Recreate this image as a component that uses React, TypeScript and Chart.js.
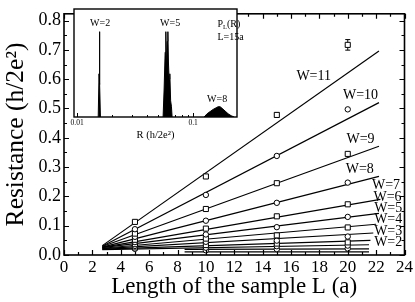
import { useEffect, useRef } from "react";
import { Chart, registerables } from "chart.js";
Chart.register(...registerables);

const SERIF = '"Liberation Serif", "DejaVu Serif", serif';

// Main chart data
const lengths = [5, 10, 15, 20];
const widthNames = ["W=11", "W=10", "W=9", "W=8", "W=7", "W=6", "W=5", "W=4", "W=3", "W=2"];
const markerShapes = ["rect", "circle", "rect", "circle", "rect", "circle", "rect", "circle", "rect", "circle"];
const rW11 = [0.113, 0.268, 0.478, 0.717];
const rW10 = [0.088, 0.205, 0.338, 0.497];
const rW9 = [0.073, 0.157, 0.245, 0.345];
const rW8 = [0.062, 0.117, 0.178, 0.247];
const rW7 = [0.052, 0.09, 0.132, 0.173];
const rW6 = [0.044, 0.07, 0.095, 0.13];
const rW5 = [0.037, 0.056, 0.067, 0.094];
const rW4 = [0.031, 0.045, 0.049, 0.063];
const rW3 = [0.026, 0.034, 0.039, 0.043];
const rW2 = [0.021, 0.025, 0.03, 0.032];
const rW1 = [null, 0.016, 0.02, 0.022];
const errW11 = [0, 0.004, 0.008, 0.018];
const allSeries = [rW11, rW10, rW9, rW8, rW7, rW6, rW5, rW4, rW3, rW2];

const fitStartX = 2.7;
const fitStartY = [0.032, 0.03, 0.029, 0.027, 0.026, 0.025, 0.023, 0.022, 0.02, 0.018];
const fitEndX = [22.2, 22.2, 22.2, 22.2, 22.3, 22.2, 22.0, 21.8, 21.6, 21.5];
const fitEndY = [0.696, 0.52, 0.371, 0.268, 0.19, 0.142, 0.105, 0.075, 0.05, 0.035];
const w1LineX = [8.5, 21.5];
const w1LineA = [0.019, 0.021];
const w1LineB = [0.011, 0.011];

const labelX = [17.6, 20.9, 20.9, 20.85, 22.7, 22.8, 22.85, 22.85, 22.85, 22.85];
const labelY = [0.61, 0.545, 0.396, 0.292, 0.237, 0.198, 0.159, 0.123, 0.081, 0.042];

// Inset data (distribution P_L(R), L = 15a)
const insetW2R = [0.0152, 0.01545, 0.01557, 0.0157, 0.0159];
const insetW2P = [0, 0.4, 0.79, 0.3, 0];
const insetW5R = [0.0551, 0.0562, 0.0574, 0.0582, 0.0589, 0.0597, 0.0606, 0.0613, 0.0621, 0.063, 0.064, 0.065, 0.0659];
const insetW5P = [0, 0.25, 0.6, 0.79, 0.45, 0.7, 0.79, 0.5, 0.35, 0.4, 0.15, 0.1, 0];
const insetW8R = [0.1244, 0.132, 0.1401, 0.1487, 0.1579, 0.1642, 0.1709, 0.1778, 0.1888, 0.2003, 0.2127, 0.2257];
const insetW8P = [0, 0.03, 0.05, 0.07, 0.085, 0.095, 0.095, 0.08, 0.055, 0.03, 0.012, 0];
const insetLabels = ["W=2", "W=5", "W=8"];
const insetLabelR = [0.0158, 0.0634, 0.161];
const insetLabelP = [0.87, 0.87, 0.167];

const pts = (xs: number[], ys: (number | null)[]) =>
  xs.map((x, i) => ({ x, y: ys[i] as number })).filter((p) => p.y !== null);

const mainDecor = {
  id: "mainDecor",
  beforeDatasetsDraw(chart: any) {
    const { ctx, scales } = chart;
    const x = scales.x, y = scales.y;
    ctx.save();
    ctx.strokeStyle = "#000";
    ctx.lineWidth = 1;
    lengths.forEach((L, i) => {
      const e = errW11[i];
      if (!e) return;
      const px = x.getPixelForValue(L);
      const y1 = y.getPixelForValue(rW11[i] - e);
      const y2 = y.getPixelForValue(rW11[i] + e);
      ctx.beginPath();
      ctx.moveTo(px, y1); ctx.lineTo(px, y2);
      ctx.moveTo(px - 2.5, y1); ctx.lineTo(px + 2.5, y1);
      ctx.moveTo(px - 2.5, y2); ctx.lineTo(px + 2.5, y2);
      ctx.stroke();
    });
    ctx.restore();
  },
  afterDraw(chart: any) {
    const { ctx, chartArea: a, scales } = chart;
    const x = scales.x, y = scales.y;
    ctx.save();
    ctx.strokeStyle = "#000";
    ctx.lineWidth = 1.6;
    ctx.strokeRect(a.left, a.top, a.right - a.left, a.bottom - a.top);
    ctx.lineWidth = 1.2;
    ctx.beginPath();
    for (let v = 0; v <= 24; v += 1) {
      const px = Math.round(x.getPixelForValue(v)) + 0.5;
      const len = v % 2 === 0 ? 5 : 3;
      ctx.moveTo(px, a.bottom); ctx.lineTo(px, a.bottom - len);
      ctx.moveTo(px, a.top); ctx.lineTo(px, a.top + len);
    }
    for (let i = 0; i <= 16; i++) {
      const py = Math.round(y.getPixelForValue(i * 0.05)) + 0.5;
      const len = i % 2 === 0 ? 5 : 3;
      ctx.moveTo(a.left, py); ctx.lineTo(a.left + len, py);
      ctx.moveTo(a.right, py); ctx.lineTo(a.right - len, py);
    }
    ctx.stroke();
    ctx.fillStyle = "#000";
    ctx.font = `14px ${SERIF}`;
    ctx.textAlign = "center";
    ctx.textBaseline = "middle";
    widthNames.forEach((w, i) => {
      ctx.fillText(w, x.getPixelForValue(labelX[i]), y.getPixelForValue(labelY[i]));
    });
    ctx.restore();
  },
};

const insetDecor = {
  id: "insetDecor",
  beforeDraw(chart: any) {
    const { ctx, chartArea: a } = chart;
    ctx.save();
    ctx.fillStyle = "#fff";
    ctx.fillRect(a.left, a.top, a.right - a.left, a.bottom - a.top);
    ctx.restore();
  },
  afterDraw(chart: any) {
    const { ctx, chartArea: a, scales } = chart;
    const x = scales.x, y = scales.y;
    ctx.save();
    ctx.strokeStyle = "#000";
    ctx.lineWidth = 1.4;
    ctx.strokeRect(a.left, a.top, a.right - a.left, a.bottom - a.top);
    ctx.lineWidth = 1;
    ctx.beginPath();
    [0.01, 0.02, 0.03, 0.04, 0.05, 0.06, 0.07, 0.08, 0.09, 0.1, 0.2].forEach((v) => {
      const px = Math.round(x.getPixelForValue(v)) + 0.5;
      const len = v === 0.01 || v === 0.1 ? 4 : 2;
      ctx.moveTo(px, a.bottom); ctx.lineTo(px, a.bottom - len);
    });
    ctx.stroke();
    ctx.fillStyle = "#000";
    ctx.font = `10px ${SERIF}`;
    ctx.textAlign = "center";
    ctx.textBaseline = "middle";
    insetLabels.forEach((t, i) => {
      ctx.fillText(t, x.getPixelForValue(insetLabelR[i]), y.getPixelForValue(insetLabelP[i]));
    });
    ctx.textAlign = "left";
    const lx = x.getPixelForValue(0.162);
    const ly = y.getPixelForValue(0.86);
    ctx.fillText("P", lx, ly);
    const pw = ctx.measureText("P").width;
    ctx.font = `6.5px ${SERIF}`;
    ctx.fillText("L", lx + pw, ly + 3);
    const lw = ctx.measureText("L").width;
    ctx.font = `10px ${SERIF}`;
    ctx.fillText("(R)", lx + pw + lw, ly);
    ctx.fillText("L=15a", lx, y.getPixelForValue(0.74));
    ctx.restore();
  },
};

export default function App() {
  const mainRef = useRef<HTMLCanvasElement>(null);
  const insetRef = useRef<HTMLCanvasElement>(null);

  useEffect(() => {
    const datasets: any[] = [];
    widthNames.forEach((w, i) => {
      datasets.push({
        label: w + " fit",
        data: [
          { x: fitStartX, y: fitStartY[i] },
          { x: fitEndX[i], y: fitEndY[i] },
        ],
        showLine: true,
        borderColor: "#000",
        borderWidth: 1.2,
        pointRadius: 0,
        order: 2,
      });
    });
    datasets.push({
      label: "W=1 a",
      data: pts(w1LineX, w1LineA),
      showLine: true,
      borderColor: "#000",
      borderWidth: 1.2,
      pointRadius: 0,
      order: 2,
    });
    datasets.push({
      label: "W=1 b",
      data: pts(w1LineX, w1LineB),
      showLine: true,
      borderColor: "#000",
      borderWidth: 1.2,
      pointRadius: 0,
      order: 2,
    });
    allSeries.forEach((s, i) => {
      const rect = markerShapes[i] === "rect";
      datasets.push({
        label: widthNames[i],
        data: pts(lengths, s),
        showLine: false,
        pointStyle: markerShapes[i],
        pointRadius: rect ? 3.6 : 2.7,
        pointBackgroundColor: "#fff",
        pointBorderColor: "#000",
        pointBorderWidth: 1,
        order: 1,
      });
    });
    datasets.push({
      label: "W=1",
      data: pts(lengths, rW1),
      showLine: false,
      pointStyle: "circle",
      pointRadius: 2.7,
      pointBackgroundColor: "#fff",
      pointBorderColor: "#000",
      pointBorderWidth: 1,
      order: 1,
    });

    const main = new Chart(mainRef.current!, {
      type: "scatter",
      data: { datasets },
      options: {
        animation: false,
        responsive: false,
        devicePixelRatio: 1,
        events: [],
        layout: { padding: { top: 2, right: 9, left: 0, bottom: 0 } },
        plugins: { legend: { display: false }, tooltip: { enabled: false } },
        scales: {
          x: {
            type: "linear",
            min: 0,
            max: 24,
            afterFit: (s: any) => { s.height = 47; },
            grid: { display: false, drawTicks: false },
            border: { display: false },
            ticks: { stepSize: 2, color: "#000", font: { family: SERIF, size: 17 }, padding: 2, maxRotation: 0 },
            title: {
              display: true,
              text: "Length of the sample L (a)",
              color: "#000",
              font: { family: SERIF, size: 23 },
              padding: { top: 0, bottom: 1 },
            },
          },
          y: {
            type: "linear",
            min: 0,
            max: 0.823,
            afterFit: (s: any) => { s.width = 64; },
            grid: { display: false, drawTicks: false },
            border: { display: false },
            ticks: {
              stepSize: 0.1,
              includeBounds: false,
              color: "#000",
              font: { family: SERIF, size: 18 },
              padding: 3,
              callback: (v: any) => Number(v).toFixed(1),
            },
            title: {
              display: true,
              text: "Resistance (h/2e²)",
              color: "#000",
              font: { family: SERIF, size: 25.5 },
              padding: { top: 1, bottom: 0 },
            },
          },
        },
      },
      plugins: [mainDecor],
    });

    const fillSet = (label: string, xs: number[], ys: number[]) => ({
      label,
      data: pts(xs, ys),
      showLine: true,
      fill: "origin",
      backgroundColor: "#000",
      borderColor: "#000",
      borderWidth: 1,
      pointRadius: 0,
      tension: 0,
    });

    const inset = new Chart(insetRef.current!, {
      type: "scatter",
      data: {
        datasets: [
          fillSet("W=2", insetW2R, insetW2P),
          fillSet("W=5", insetW5R, insetW5P),
          fillSet("W=8", insetW8R, insetW8P),
        ],
      },
      options: {
        animation: false,
        responsive: false,
        devicePixelRatio: 1,
        events: [],
        layout: { padding: { top: 5, right: 9, left: 8, bottom: 0 } },
        plugins: { legend: { display: false }, tooltip: { enabled: false } },
        scales: {
          x: {
            type: "logarithmic",
            min: 0.0094,
            max: 0.239,
            afterFit: (s: any) => { s.height = 27; },
            grid: { display: false, drawTicks: false },
            border: { display: false },
            ticks: {
              autoSkip: false,
              maxRotation: 0,
              color: "#000",
              font: { family: SERIF, size: 7.5 },
              padding: 2,
              callback: (v: any) => {
                const l = Math.log10(Number(v));
                if (Math.abs(l + 2) < 1e-6) return "0.01";
                if (Math.abs(l + 1) < 1e-6) return "0.1";
                return "";
              },
            },
            title: {
              display: true,
              text: "R (h/2e²)",
              color: "#000",
              font: { family: SERIF, size: 10.5 },
              padding: { top: 0, bottom: 2 },
            },
          },
          y: { type: "linear", min: 0, max: 1, display: false },
        },
      },
      plugins: [insetDecor],
    });

    return () => {
      main.destroy();
      inset.destroy();
    };
  }, []);

  return (
    <div style={{ position: "fixed", left: 0, top: 0, width: 415, height: 302, background: "#fff" }}>
      <canvas ref={mainRef} width={415} height={302} style={{ display: "block", position: "absolute", left: 0, top: 0 }} />
      <canvas ref={insetRef} width={180} height={140} style={{ display: "block", position: "absolute", left: 66, top: 4 }} />
    </div>
  );
}
